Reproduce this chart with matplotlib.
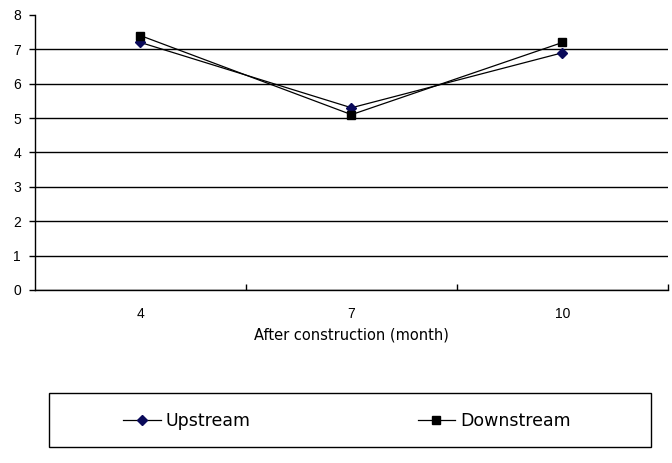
import matplotlib
matplotlib.use("Agg")
import matplotlib.pyplot as plt
from matplotlib.ticker import FixedLocator
from matplotlib.patches import Rectangle

# data
months = ["4", "7", "10"]
upstream = [7.2, 5.3, 6.9]
downstream = [7.4, 5.1, 7.2]

plt.rcParams['font.family'] = ['Liberation Sans', 'DejaVu Sans']

fig = plt.figure(figsize=(6.72, 4.63), dpi=100)
ax = fig.add_axes([0.052, 0.3737, 0.942, 0.594])

x = list(range(len(months)))
ax.plot(x, upstream, color='black', linewidth=0.9, marker='D', markersize=5,
        markerfacecolor='#0a0a5a', markeredgecolor='#0a0a5a', label='Upstream', zorder=3)
ax.plot(x, downstream, color='black', linewidth=0.9, marker='s', markersize=6,
        markerfacecolor='black', markeredgecolor='black', label='Downstream', zorder=3)

ax.set_xlim(-0.5, 2.5)
ax.set_ylim(0, 8)
ax.set_yticks(range(0, 9))
ax.yaxis.grid(True, color='black', linewidth=1.0)
ax.get_ygridlines()[-1].set_visible(False)   # no line at the top
ax.set_axisbelow(True)

ax.set_xticks(x)
ax.set_xticklabels(months)
ax.xaxis.set_minor_locator(FixedLocator([0.5, 1.5, 2.5]))
ax.tick_params(axis='x', which='major', length=0, pad=12, labelsize=10)
ax.tick_params(axis='x', which='minor', length=4, width=1, direction='in')
ax.tick_params(axis='y', length=4, width=1, labelsize=10, pad=6)

for s in ['top', 'right']:
    ax.spines[s].set_visible(False)
ax.spines['left'].set_linewidth(1.0)
ax.spines['bottom'].set_linewidth(1.0)

ax.set_xlabel('After construction (month)', fontsize=10.5, labelpad=5,
              family=['DejaVu Sans'])

# legend frame drawn separately so the entries can sit where they do in the original
fig.patches.append(Rectangle((49 / 672, 1 - 447 / 463), 602 / 672, 54 / 463,
                             transform=fig.transFigure, fill=False,
                             edgecolor='black', linewidth=1.0))
fig.legend(loc='center', bbox_to_anchor=(347 / 672, 1 - 421 / 463), ncol=2,
           frameon=False, prop={'family': 'DejaVu Sans', 'size': 12.5},
           handlelength=2.15, handletextpad=0.3, columnspacing=9.6)

fig.savefig('out.png', dpi=100)
